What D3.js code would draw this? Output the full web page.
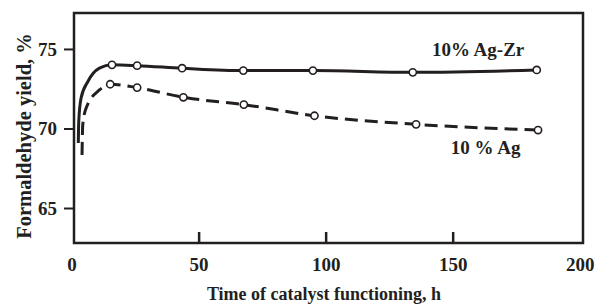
<!DOCTYPE html>
<html>
<head>
<meta charset="utf-8">
<script src="https://cdn.jsdelivr.net/npm/d3@7"></script>
<style>
  body { margin: 0; background: #fff; }
  text { font-family: "Liberation Serif", "DejaVu Serif", serif; font-weight: bold; fill: #231f20; }
</style>
</head>
<body>
<div id="viz"></div>
<script>
// catalyst yield vs time, two catalysts

// measured points (circles)
const agZrTime  = [15.9, 25.8, 43.5, 67.6, 95.0, 134.3, 183.1];
const agZrYield = [74.0, 73.95, 73.79, 73.64, 73.64, 73.53, 73.68];
const agTime    = [15.2, 25.8, 44.0, 67.8, 95.6, 135.6, 183.6];
const agYield   = [72.78, 72.57, 71.96, 71.5, 70.8, 70.26, 69.9];

// start-up part of the curves (no circles)
const agZrStartTime  = [2.65, 2.81, 3.72, 6.37, 10.96];
const agZrStartYield = [69.09, 70.43, 71.9, 72.94, 73.79];
const agStartTime    = [4.11, 4.39, 5.7, 10.96];
const agStartYield   = [68.33, 70.22, 71.27, 72.42];

const xTicks = [0, 50, 100, 150, 200];
const yTicks = [65, 70, 75];

function drawChart() {
    const dimensions = {
        width: 598,
        height: 306,
        margins: { top: 13, right: 15, bottom: 63, left: 74 }
    };
    dimensions.boundedWidth = dimensions.width - dimensions.margins.left - dimensions.margins.right;
    dimensions.boundedHeight = dimensions.height - dimensions.margins.top - dimensions.margins.bottom;

    const svg = d3.select('#viz').append('svg')
        .attr('width', dimensions.width)
        .attr('height', dimensions.height);

    const bounds = svg.append('g')
        .attr('transform', `translate(${dimensions.margins.left}, ${dimensions.margins.top})`);

    // axis a little off from the frame, as in the scanned original
    const x = d3.scaleLinear()
        .domain([0.95, 201.3])
        .range([0, dimensions.boundedWidth]);

    const y = d3.scaleLinear()
        .domain([62.8, 77.26])
        .range([dimensions.boundedHeight, 0]);

    // frame
    bounds.append('rect')
        .attr('width', dimensions.boundedWidth)
        .attr('height', dimensions.boundedHeight)
        .attr('fill', 'none')
        .attr('stroke', '#231f20')
        .attr('stroke-width', 2.5);

    // x ticks go inward from the bottom
    const xAxis = bounds.append('g')
        .attr('transform', `translate(0, ${dimensions.boundedHeight})`)
        .call(d3.axisBottom(x).tickValues(xTicks).tickSize(-11).tickPadding(15));
    xAxis.select('.domain').remove();
    xAxis.selectAll('.tick line')
        .attr('stroke', '#231f20')
        .attr('stroke-width', 2.5)
        .filter(d => d === 0 || d === 200).remove();
    xAxis.selectAll('.tick text')
        .style('font-size', '19px');

    // y ticks go outward
    const yAxis = bounds.append('g')
        .call(d3.axisLeft(y).tickValues(yTicks).tickSize(10).tickPadding(7));
    yAxis.select('.domain').remove();
    yAxis.selectAll('.tick line')
        .attr('stroke', '#231f20')
        .attr('stroke-width', 2);
    yAxis.selectAll('.tick text')
        .style('font-size', '19px');

    const line = d3.line()
        .x(d => x(d[0]))
        .y(d => y(d[1]))
        .curve(d3.curveMonotoneX);

    const agZr = d3.zip(agZrStartTime.concat(agZrTime), agZrStartYield.concat(agZrYield));
    const ag = d3.zip(agStartTime.concat(agTime), agStartYield.concat(agYield));

    bounds.append('path')
        .attr('d', line(agZr))
        .attr('fill', 'none')
        .attr('stroke', '#231f20')
        .attr('stroke-width', 3);

    bounds.append('path')
        .attr('d', line(ag))
        .attr('fill', 'none')
        .attr('stroke', '#231f20')
        .attr('stroke-width', 3)
        .attr('stroke-dasharray', '13,7');

    bounds.append('g')
        .selectAll('circle')
        .data(d3.zip(agZrTime, agZrYield).concat(d3.zip(agTime, agYield)))
        .enter().append('circle')
            .attr('cx', d => x(d[0]))
            .attr('cy', d => y(d[1]))
            .attr('r', 3.6)
            .attr('fill', '#fff')
            .attr('stroke', '#231f20')
            .attr('stroke-width', 1.6);

    // curve labels
    bounds.append('text')
        .attr('x', x(160))
        .attr('y', y(74.58))
        .attr('text-anchor', 'middle')
        .style('font-size', '19px')
        .text('10% Ag-Zr');

    bounds.append('text')
        .attr('x', x(163))
        .attr('y', y(68.4))
        .attr('text-anchor', 'middle')
        .style('font-size', '19px')
        .text('10 % Ag');

    // axis titles
    svg.append('text')
        .attr('x', 324)
        .attr('y', 300)
        .attr('text-anchor', 'middle')
        .style('font-size', '18px')
        .text('Time of catalyst functioning, h');

    svg.append('text')
        .attr('transform', 'translate(31, 136) rotate(-90)')
        .attr('text-anchor', 'middle')
        .style('font-size', '20.5px')
        .text('Formaldehyde yield, %');
}

drawChart();
</script>
</body>
</html>
